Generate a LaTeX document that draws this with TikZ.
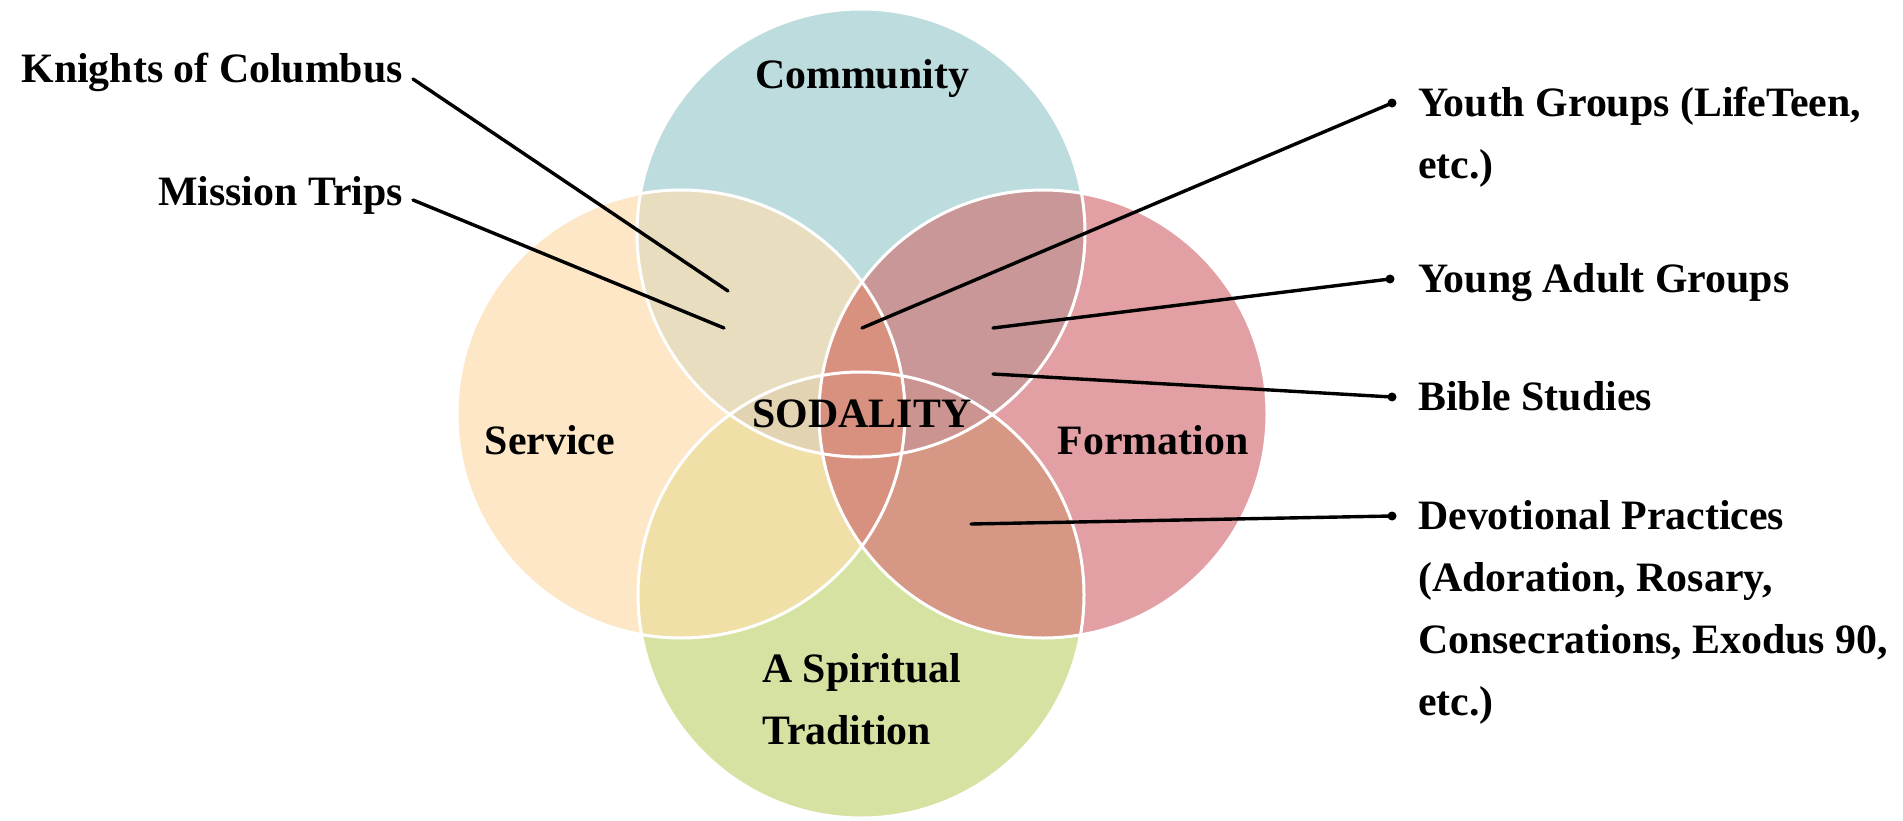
\documentclass[tikz,border=0pt]{standalone}
\usepackage{fontspec}
\setmainfont{Liberation Serif}
\definecolor{cC}{HTML}{BDDCDD}
\definecolor{cS}{HTML}{FDE7C6}
\definecolor{cF}{HTML}{E3A0A4}
\definecolor{cT}{HTML}{D6E2A2}
\definecolor{cCS}{HTML}{E8DEBF}
\definecolor{cCF}{HTML}{C99797}
\definecolor{cTS}{HTML}{F1DFA8}
\definecolor{cTF}{HTML}{D69884}
\definecolor{cCTS}{HTML}{E2D3B2}
\definecolor{cCTF}{HTML}{CC9490}
\definecolor{cSF}{HTML}{D9917F}
\begin{document}
\begin{tikzpicture}[x=1bp,y=-1bp,
  lbl/.style={font=\bfseries\fontsize{42}{62}\selectfont, inner sep=0pt, text=black},
  conn/.style={line width=3.4bp, line cap=round, black},
  dotnode/.style={circle, fill=black, inner sep=0pt, minimum size=9bp},
  outline/.style={draw=white, line width=3bp}]
\useasboundingbox (0,0) rectangle (1903,821);
\def\pC{(861,233) circle (224bp)}
\def\pS{(681,414) circle (224bp)}
\def\pF{(1043,414) circle (224bp)}
\def\pT{(861,595) circle (223bp)}
% base fills
\fill[cC] \pC;
\fill[cS] \pS;
\fill[cF] \pF;
\fill[cT] \pT;
% pairwise overlaps
\begin{scope}\clip \pC; \fill[cCS] \pS; \fill[cCF] \pF; \end{scope}
\begin{scope}\clip \pT; \fill[cTS] \pS; \fill[cTF] \pF; \end{scope}
\begin{scope}\clip \pC; \clip \pT; \fill[cCTS] \pS; \fill[cCTF] \pF; \end{scope}
\begin{scope}\clip \pS; \clip \pF; \fill[cSF] (600,150) rectangle (1120,700); \end{scope}
% outlines
\path[outline] \pC;
\path[outline] \pS;
\path[outline] \pF;
\path[outline] \pT;
% circle labels
\node[lbl, anchor=base] (community) at (862,89) {Community};
\node[lbl, anchor=base] (service) at (550,454) {Service};
\node[lbl, anchor=base] (formation) at (1153,454) {Formation};
\node[lbl, anchor=base] (sodality) at (862,427) {SODALITY};
\node[lbl, anchor=base west, align=left] (spiritual) at (762,744) {A Spiritual\\Tradition};
% left labels
\node[lbl, anchor=base east] (knights) at (403,83) {Knights of Columbus};
\node[lbl, anchor=base east] (mission) at (403,205) {Mission Trips};
% right labels
\node[lbl, anchor=base west, align=left] (youth) at (1418,178) {Youth Groups (LifeTeen,\\etc.)};
\node[lbl, anchor=base west] (young) at (1418,292) {Young Adult Groups};
\node[lbl, anchor=base west] (bible) at (1418,410) {Bible Studies};
\node[lbl, anchor=base west, align=left] (devot) at (1418,715) {Devotional Practices\\(Adoration, Rosary,\\Consecrations, Exodus 90,\\etc.)};
% connector end points
\coordinate (kstart) at (413,79);
\coordinate (kend) at (728,291);
\coordinate (mstart) at (413,200);
\coordinate (mend) at (724,328);
\node[dotnode] (ydot) at (1392,103) {};
\node[dotnode] (yadot) at (1390,279) {};
\node[dotnode] (bdot) at (1392,397) {};
\node[dotnode] (ddot) at (1392,516) {};
\coordinate (yend) at (862,328);
\coordinate (yaend) at (993,328);
\coordinate (bend) at (993,374);
\coordinate (dend) at (971,524);
% connectors
\draw[conn] (kstart) -- (kend);
\draw[conn] (mstart) -- (mend);
\draw[conn] (yend) -- (ydot.center);
\draw[conn] (yaend) -- (yadot.center);
\draw[conn] (bend) -- (bdot.center);
\draw[conn] (dend) -- (ddot.center);
\end{tikzpicture}
\end{document}
